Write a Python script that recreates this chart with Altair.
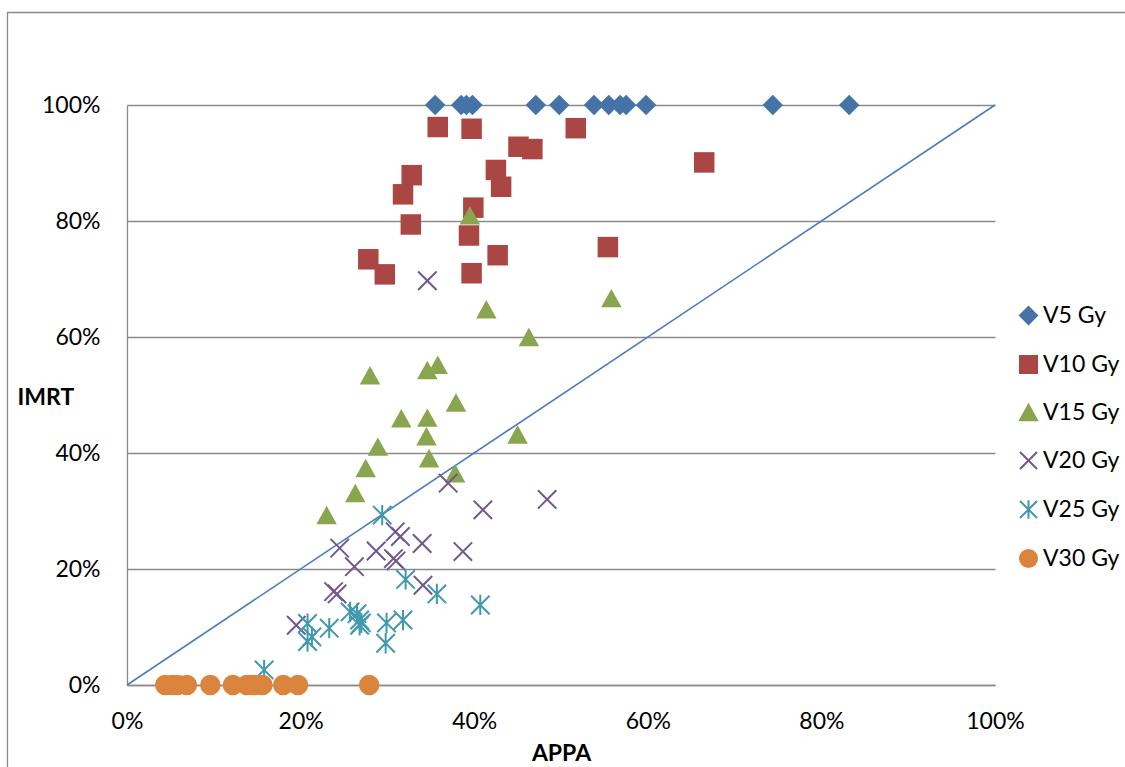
import altair as alt
import pandas as pd

# Volume receiving each dose level (%), APPA plan (x) vs IMRT plan (y)
series_names = ["V5 Gy", "V10 Gy", "V15 Gy", "V20 Gy", "V25 Gy", "V30 Gy"]
series_colors = ["#4572A7", "#AA4643", "#89A54E", "#71588F", "#4198AF", "#DB843D"]

v5_appa = [35.5, 38.5, 39.1, 39.8, 47.1, 49.8, 53.8, 55.5, 56.8, 57.5, 59.8, 74.4, 83.2]
v5_imrt = [100, 100, 100, 100, 100, 100, 100, 100, 100, 100, 100, 100, 100]

v10_appa = [35.8, 39.7, 51.7, 45.1, 46.7, 66.5, 32.8, 42.5, 43.1, 31.8, 39.9, 32.7,
            39.4, 42.7, 55.4, 27.8, 29.7, 39.7]
v10_imrt = [96.2, 95.9, 96.0, 92.8, 92.4, 90.1, 87.9, 88.8, 85.9, 84.6, 82.3, 79.4,
            77.5, 74.1, 75.5, 73.4, 70.8, 71.0]

v15_appa = [39.5, 41.4, 55.8, 46.3, 28.0, 34.6, 35.8, 37.9, 31.6, 34.6, 34.5, 45.0,
            28.9, 34.8, 27.5, 37.8, 26.3, 23.0]
v15_imrt = [81.0, 64.8, 66.7, 60.0, 53.4, 54.3, 55.2, 48.7, 46.0, 46.1, 42.9, 43.2,
            41.1, 39.1, 37.4, 36.5, 33.1, 29.3]

v20_appa = [34.6, 37.0, 48.4, 41.0, 24.5, 28.7, 30.9, 31.5, 34.0, 38.7, 30.7, 31.0,
            26.2, 23.8, 24.2, 34.1, 19.5]
v20_imrt = [69.7, 34.8, 32.0, 30.2, 23.6, 23.1, 26.4, 25.6, 24.4, 23.0, 21.8, 21.4,
            20.4, 16.1, 15.7, 17.2, 10.3]

v25_appa = [29.4, 32.1, 35.7, 40.7, 25.7, 26.5, 26.8, 27.0, 26.8, 29.9, 31.8, 23.3,
            20.8, 21.3, 20.8, 29.8, 15.8]
v25_imrt = [29.3, 18.2, 15.7, 13.8, 12.6, 12.3, 11.2, 10.7, 10.3, 10.7, 11.2, 9.8,
            10.6, 8.3, 7.5, 7.2, 2.6]

v30_appa = [4.4, 5.2, 5.8, 6.9, 9.6, 12.2, 13.8, 14.4, 14.7, 15.6, 18.0, 19.7, 27.9]
v30_imrt = [0, 0, 0, 0, 0, 0, 0, 0, 0, 0, 0, 0, 0]

# line of identity
identity_appa = [0, 100]
identity_imrt = [0, 100]

tick_values = [0, 20, 40, 60, 80, 100]


def frame(name, xs, ys):
    return pd.DataFrame({"series": name, "APPA": xs, "IMRT": ys})


filled_df = pd.concat([
    frame("V5 Gy", v5_appa, v5_imrt),
    frame("V10 Gy", v10_appa, v10_imrt),
    frame("V15 Gy", v15_appa, v15_imrt),
], ignore_index=True)
stroked_df = pd.concat([
    frame("V20 Gy", v20_appa, v20_imrt),
    frame("V25 Gy", v25_appa, v25_imrt),
], ignore_index=True)
circles_df = frame("V30 Gy", v30_appa, v30_imrt)
identity_df = pd.DataFrame({"APPA": identity_appa, "IMRT": identity_imrt})

FONT = "Lato"
GRAY = "#8a8a8a"

x_enc = alt.X("APPA:Q",
              scale=alt.Scale(domain=[0, 100], nice=False),
              axis=alt.Axis(values=tick_values, labelExpr="datum.value + '%'",
                            grid=False, ticks=False, labelPadding=25, labelFlush=False,
                            title="APPA", titleY=57, titleBaseline="top",
                            titleFontWeight="bold", titleFontSize=23))
y_enc = alt.Y("IMRT:Q",
              scale=alt.Scale(domain=[0, 100], nice=False),
              axis=alt.Axis(values=tick_values, labelExpr="datum.value + '%'",
                            grid=True, ticks=False, labelPadding=27, labelFlush=False,
                            title="IMRT", titleAngle=0, titleAlign="left",
                            titleBaseline="middle", titleX=-110, titleY=292,
                            titleFontWeight="bold", titleFontSize=23))

shape_range = [
    "diamond",
    "square",
    "M0,-0.9L1,0.9L-1,0.9Z",
    "M-1,-1L1,1M1,-1L-1,1",
    "M-1,-1L1,1M1,-1L-1,1M0,-1.1L0,1.1",
    "circle",
]

legend = alt.Legend(title=None, orient="none", legendX=890, legendY=199,
                    labelFont=FONT, labelFontSize=23, labelColor="black",
                    symbolSize=290, symbolStrokeWidth=2, rowPadding=22,
                    labelOffset=3, padding=0)

fill_enc = alt.Fill("series:N", scale=alt.Scale(domain=series_names, range=series_colors),
                    legend=legend)
stroke_enc = alt.Stroke("series:N", scale=alt.Scale(domain=series_names, range=series_colors),
                        legend=legend)
shape_enc = alt.Shape("series:N", scale=alt.Scale(domain=series_names, range=shape_range),
                      legend=legend)


def points(df, size, stroke_width):
    return alt.Chart(df).mark_point(filled=True, opacity=1, size=size,
                                    strokeWidth=stroke_width).encode(
        x=x_enc, y=y_enc, fill=fill_enc, stroke=stroke_enc, shape=shape_enc)


identity = alt.Chart(identity_df).mark_line(color="#4A7EBB", strokeWidth=1.6).encode(
    x=x_enc, y=y_enc)

# outer chart-area frame
frame_df = pd.DataFrame({"k": [0]})
outer = alt.Chart(frame_df).mark_rect(filled=False, stroke=GRAY, strokeWidth=1.3,
                                      clip=False).encode(
    x=alt.value(-119.5), y=alt.value(-92.5), x2=alt.value(1400), y2=alt.value(1400))

chart = alt.layer(
    outer,
    identity,
    points(filled_df, 420, 0),
    points(stroked_df, 340, 2),
    points(circles_df, 420, 0),
).properties(
    width=868, height=580,
    padding={"left": 127, "top": 105, "right": 130, "bottom": 82},
    autosize=alt.AutoSizeParams(type="none"),
).configure_view(
    stroke=None
).configure_axis(
    labelFont=FONT, labelFontSize=23, labelColor="black",
    titleFont=FONT, titleColor="black",
    domainColor=GRAY, domainWidth=1.3,
    gridColor=GRAY, gridWidth=1.3, gridOpacity=1,
)

chart.save("out.html", embed_options={"renderer": "svg", "actions": False})
